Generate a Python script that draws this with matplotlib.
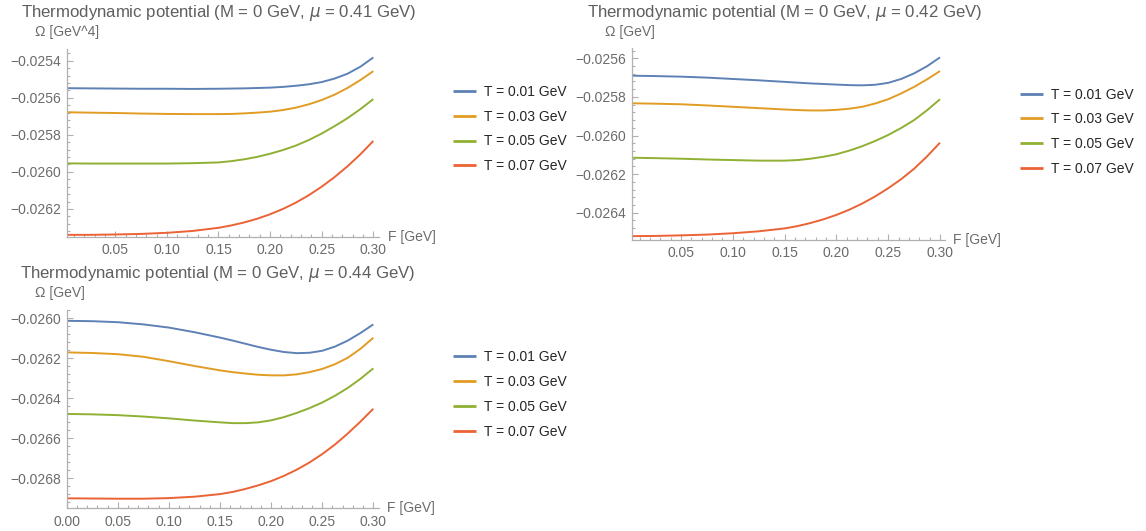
import matplotlib
matplotlib.use("Agg")
import matplotlib.pyplot as plt
from matplotlib.ticker import MultipleLocator, FuncFormatter

plt.rcParams['font.family'] = ['Liberation Sans', 'DejaVu Sans']

# ---------------- data ----------------
temps = ["T = 0.01 GeV", "T = 0.03 GeV", "T = 0.05 GeV", "T = 0.07 GeV"]
colors = ["#5E81B5", "#E19C24", "#8FB032", "#EB6235"]

F_top = [0.003, 0.025, 0.05, 0.075, 0.10, 0.125, 0.15, 0.1625, 0.175, 0.1875,
         0.20, 0.2125, 0.225, 0.2375, 0.25, 0.2625, 0.275, 0.2875, 0.30]
F_bot = [0.0, 0.025, 0.05, 0.075, 0.10, 0.125, 0.15, 0.1625, 0.175, 0.1875,
         0.20, 0.2125, 0.225, 0.2375, 0.25, 0.2625, 0.275, 0.2875, 0.30]

# mu = 0.41 GeV
omega_041_T001 = [-0.025548, -0.025549, -0.025550, -0.025551, -0.025551, -0.025552, -0.025551,
                  -0.025550, -0.025549, -0.025547, -0.025545, -0.025541, -0.025535, -0.025527,
                  -0.025515, -0.025496, -0.025470, -0.025432, -0.025382]
omega_041_T003 = [-0.025678, -0.025680, -0.025682, -0.025685, -0.025687, -0.025688, -0.025688,
                  -0.025687, -0.025684, -0.025680, -0.025675, -0.025666, -0.025653, -0.025635,
                  -0.025612, -0.025583, -0.025547, -0.025504, -0.025456]
omega_041_T005 = [-0.025954, -0.025955, -0.025955, -0.025955, -0.025955, -0.025953, -0.025949,
                  -0.025942, -0.025932, -0.025919, -0.025902, -0.025882, -0.025858, -0.025828,
                  -0.025793, -0.025753, -0.025710, -0.025661, -0.025607]
omega_041_T007 = [-0.026340, -0.026340, -0.026338, -0.026335, -0.026329, -0.026319, -0.026302,
                  -0.026289, -0.026273, -0.026253, -0.026229, -0.026200, -0.026166, -0.026126,
                  -0.026080, -0.026028, -0.025970, -0.025905, -0.025833]

# mu = 0.42 GeV
omega_042_T001 = [-0.025690, -0.025692, -0.025695, -0.025700, -0.025707, -0.025714, -0.025722,
                  -0.025726, -0.025730, -0.025733, -0.025736, -0.025739, -0.025740, -0.025737,
                  -0.025727, -0.025707, -0.025678, -0.025641, -0.025595]
omega_042_T003 = [-0.025833, -0.025835, -0.025838, -0.025844, -0.025851, -0.025858, -0.025865,
                  -0.025868, -0.025870, -0.025870, -0.025867, -0.025861, -0.025851, -0.025834,
                  -0.025812, -0.025782, -0.025748, -0.025709, -0.025666]
omega_042_T005 = [-0.026115, -0.026117, -0.026120, -0.026124, -0.026127, -0.026130, -0.026130,
                  -0.026127, -0.026120, -0.026110, -0.026097, -0.026078, -0.026055, -0.026028,
                  -0.025997, -0.025961, -0.025920, -0.025869, -0.025812]
omega_042_T007 = [-0.026521, -0.026520, -0.026517, -0.026513, -0.026506, -0.026496, -0.026481,
                  -0.026469, -0.026453, -0.026434, -0.026411, -0.026384, -0.026352, -0.026315,
                  -0.026273, -0.026226, -0.026172, -0.026108, -0.026037]

# mu = 0.44 GeV
omega_044_T001 = [-0.026012, -0.026014, -0.026019, -0.026030, -0.026046, -0.026069, -0.026096,
                  -0.026111, -0.026127, -0.026143, -0.026157, -0.026168, -0.026174, -0.026172,
                  -0.026162, -0.026141, -0.026111, -0.026073, -0.026030]
omega_044_T003 = [-0.026170, -0.026173, -0.026179, -0.026192, -0.026214, -0.026238, -0.026260,
                  -0.026269, -0.026276, -0.026282, -0.026285, -0.026285, -0.026280, -0.026269,
                  -0.026253, -0.026229, -0.026197, -0.026152, -0.026097]
omega_044_T005 = [-0.026478, -0.026480, -0.026484, -0.026491, -0.026500, -0.026511, -0.026520,
                  -0.026524, -0.026524, -0.026520, -0.026510, -0.026494, -0.026473, -0.026449,
                  -0.026421, -0.026387, -0.026348, -0.026302, -0.026250]
omega_044_T007 = [-0.026900, -0.026901, -0.026902, -0.026902, -0.026899, -0.026892, -0.026879,
                  -0.026868, -0.026853, -0.026835, -0.026814, -0.026788, -0.026757, -0.026721,
                  -0.026679, -0.026631, -0.026576, -0.026516, -0.026452]

# ---------------- figure ----------------
W, H = 1146, 531
fig = plt.figure(figsize=(W / 100, H / 100), dpi=100)

AX_COL = "#b0b0b0"
LBL_COL = "#6b6b6b"
TITLE_COL = "#5f5f5f"


def px_axes(x0, y0, x1, y1):
    return fig.add_axes([x0 / W, 1 - y1 / H, (x1 - x0) / W, (y1 - y0) / H])


def fx(x):
    return x / W


def fy(y):
    return 1 - y / H


panels = [
    dict(mu="0.41", F=F_top, series=[omega_041_T001, omega_041_T003, omega_041_T005, omega_041_T007],
         box=(66.7, 49.3, 378.5, 236.7), xlim=(0.003, 0.30504), ylim=(-0.02635, -0.025338),
         ylab="Ω [GeV^4]", ylab_pos=(35, 32), title_pos=(218.5, 13),
         flab_pos=(388, 236.7), leg_pos=(453, 93.3)),
    dict(mu="0.42", F=F_top, series=[omega_042_T001, omega_042_T003, omega_042_T005, omega_042_T007],
         box=(632.3, 47.5, 945.0, 240.0), xlim=(0.003, 0.30483), ylim=(-0.026541, -0.025544),
         ylab="Ω [GeV]", ylab_pos=(605, 32), title_pos=(784.5, 13),
         flab_pos=(953, 240.0), leg_pos=(1020, 96)),
    dict(mu="0.44", F=F_bot, series=[omega_044_T001, omega_044_T003, omega_044_T005, omega_044_T007],
         box=(66.7, 310.0, 378.5, 508.3), xlim=(0.0, 0.30509), ylim=(-0.02695, -0.025958),
         ylab="Ω [GeV]", ylab_pos=(35, 293), title_pos=(217.5, 274),
         flab_pos=(387, 508.3), leg_pos=(453, 358.5)),
]

for p in panels:
    ax = px_axes(*p["box"])
    handles = []
    for vals, col, lab in zip(p["series"], colors, temps):
        h, = ax.plot(p["F"], vals, color=col, lw=1.4, label=lab, solid_capstyle='butt')
        handles.append(h)
    ax.set_xlim(*p["xlim"])
    ax.set_ylim(*p["ylim"])
    ax.patch.set_alpha(0)
    for s in ("top", "right"):
        ax.spines[s].set_visible(False)
    for s in ("left", "bottom"):
        ax.spines[s].set_color(AX_COL)
        ax.spines[s].set_linewidth(0.9)
    ax.xaxis.set_major_locator(MultipleLocator(0.05))
    ax.xaxis.set_minor_locator(MultipleLocator(0.01))
    ax.yaxis.set_major_locator(MultipleLocator(0.0002))
    ax.yaxis.set_minor_locator(MultipleLocator(0.00004))
    ax.xaxis.set_major_formatter(FuncFormatter(lambda v, pos: f"{v:.2f}"))
    ax.yaxis.set_major_formatter(FuncFormatter(lambda v, pos: f"{v:.4f}".replace("-", "\u2212")))
    ax.tick_params(which="both", direction="in", color=AX_COL, width=0.8,
                   labelcolor=LBL_COL, labelsize=10)
    ax.tick_params(which="major", length=4.0)
    ax.tick_params(which="minor", length=2.2)
    ax.tick_params(axis="y", which="major", pad=4.2)
    ax.tick_params(axis="x", which="major", pad=4.5)

    fig.text(fx(p["title_pos"][0]), fy(p["title_pos"][1]),
             f"Thermodynamic potential (M = 0 GeV, $\\mu$ = {p['mu']} GeV)",
             ha="center", va="center", fontsize=12.1, color=TITLE_COL)
    fig.text(fx(p["ylab_pos"][0]), fy(p["ylab_pos"][1]), p["ylab"],
             ha="left", va="center", fontsize=10, color=LBL_COL)
    fig.text(fx(p["flab_pos"][0]), fy(p["flab_pos"][1]), "F [GeV]",
             ha="left", va="center", fontsize=10, color=LBL_COL)

    lx, ly = p["leg_pos"]
    leg = ax.legend(handles=handles, loc="upper left",
                    bbox_to_anchor=(fx(lx), fy(ly - 8.5)), bbox_transform=fig.transFigure,
                    frameon=False, fontsize=10, handlelength=1.65, handletextpad=0.55,
                    labelspacing=0.78, borderpad=0, borderaxespad=0)
    for t in leg.get_texts():
        t.set_color("#262626")
    for l in leg.get_lines():
        l.set_linewidth(2.0)

fig.savefig("out.png", dpi=100)
